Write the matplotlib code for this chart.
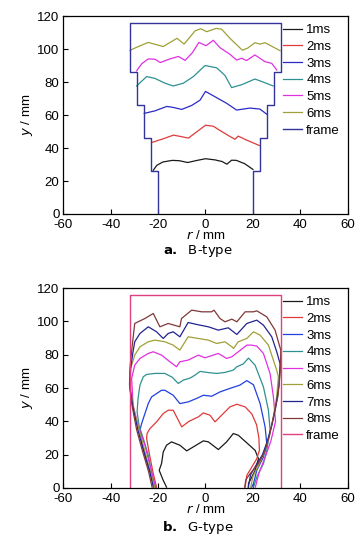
import matplotlib
matplotlib.use("Agg")
import matplotlib.pyplot as plt

plt.rcParams['font.family'] = ['Liberation Sans', 'DejaVu Sans']
plt.rcParams['axes.unicode_minus'] = False

# ---- panel a: B-type ----
a_labels = ['1ms', '2ms', '3ms', '4ms', '5ms', '6ms']
a_colors = ['#1a1a1a', '#e03a3a', '#2a2ac8', '#2f9090', '#e030e0', '#a0a038']

a_x = [
    [-22, -20.5, -18, -14, -11, -7.5, -3.5, 0, 4, 7, 9, 11, 13, 16.5, 20],
    [-22.7, -18, -13.5, -10.5, -7.2, -3.5, 0, 3.3, 6.8, 10.3, 12.4, 13.8, 17, 22.7],
    [-25.8, -21.3, -16.3, -13.6, -10, -5.8, -2.3, 0, 4.7, 8.9, 13.1, 18.7, 22.9, 25.8],
    [-29, -24.8, -21.3, -17.1, -13.6, -9.3, -5.1, -0.2, 4.7, 8.2, 11, 15.5, 20.8, 23.7, 28.5],
    [-29, -26.9, -24.1, -21.3, -19, -15, -11.4, -8.6, -5.5, -2.8, 0.2, 3.3, 6.1, 10.3,
     13.1, 15.2, 17.3, 20.8, 25.1, 27.9, 30],
    [-31.8, -28.3, -24.1, -17.8, -12, -9, -4.4, -2, 0.5, 4.5, 6.8, 10.3, 15.5, 17.7,
     20.8, 22.9, 25.1, 31.4],
]
a_y = [
    [26.5, 29.5, 31.5, 32.5, 32.3, 31.2, 32.5, 33.5, 32.8, 31.8, 30.2, 32.6, 32.5, 30.5, 27],
    [43.3, 45.5, 47.8, 47, 46, 50, 53.8, 53.2, 50, 47, 45.3, 47.2, 45, 41.5],
    [61, 62.5, 65.2, 64.6, 63.4, 65.8, 69, 74.3, 70.5, 67.1, 63, 64.2, 63.6, 60.5],
    [77.6, 83.3, 82.2, 79.3, 77.6, 79.3, 83.3, 90, 88.6, 84, 76.6, 78.5, 81.8, 80.3, 77.6],
    [86.8, 91, 94, 93.8, 91.8, 94, 95.5, 93.1, 97.8, 104, 102, 105.3, 100.8, 96.8,
     93.3, 94.4, 93, 96.4, 92.3, 91.3, 87.3],
    [99.2, 101.5, 104, 101.5, 106.5, 103, 111, 112.3, 110.5, 112.5, 112, 106.5, 99.3,
     100.5, 103.8, 103, 103.8, 99],
]
a_frame_x = [-20, -20, -23, -23, -26, -26, -29, -29, -32, -32, 32, 32, 29, 29, 26, 26, 23, 23, 20, 20]
a_frame_y = [0, 26, 26, 46, 46, 66, 66, 86, 86, 116, 116, 86, 86, 66, 66, 46, 46, 26, 26, 0]
a_frame_color = '#333399'

# ---- panel b: G-type ----
b_labels = ['1ms', '2ms', '3ms', '4ms', '5ms', '6ms', '7ms', '8ms']
b_colors = ['#1a1a1a', '#e03a3a', '#2040e0', '#2f9090', '#e030e0', '#a0a038', '#23238f', '#803838']

b_x = [
    [-16.4, -17.8, -19.5, -18.5, -17.8, -16.4, -14.3, -10.8, -7.9, -5.1, -0.9, 1.2, 5.4,
     8.9, 11.7, 13.8, 17.4, 20.9, 22.3, 20.9, 18.1, 18.1],
    [-20.6, -22, -23.4, -24.8, -24.6, -23.4, -20.6, -17.8, -15.7, -13.6, -10, -7, -3, -0.9,
     1.9, 4, 7.5, 10.3, 13.2, 16.7, 19.5, 21.5, 22.5, 22.7, 21.6, 19.5, 17.4, 16.7],
    [-21, -22.5, -24.5, -26.5, -27.6, -26.9, -24.1, -22.7, -18.5, -17.1, -13.6, -10.8,
     -7.3, -3.7, -0.9, 2.6, 6.1, 10.3, 14.5, 17.4, 20.2, 23, 25.1, 25.8, 24.4, 21.6, 20.2, 19.5],
    [-21.3, -22.7, -24.1, -26.2, -28, -28.8, -28.4, -27.6, -26.2, -24.8, -21.3, -17.1, -14,
     -11.5, -9.3, -6.5, -4.4, -2.3, 1.9, 4.7, 8.2, 11.7, 13.2, 15.9, 18.1, 20.9, 24.4,
     26.5, 27.2, 25.8, 24.4, 21.6, 20.2],
    [-21, -23.4, -25.5, -28.4, -30.5, -31.1, -29.8, -27.6, -24.1, -22, -18.5, -15, -12.2,
     -10.8, -7.3, -3, -0.2, 3.3, 5.4, 8.9, 11.1, 17.4, 19.5, 21.6, 24.4, 27.2, 28.6, 29.5,
     27.5, 25, 22.5, 21],
    [-21.5, -23.5, -25.5, -28, -30, -31.5, -31.9, -29.8, -27.6, -24.1, -21.3, -17.1, -13.6,
     -10.8, -7.3, -3, 1.2, 4.7, 8.2, 11.1, 11.8, 13.8, 17.4, 20.2, 23, 26.5, 30, 30.7, 30,
     28.5, 27, 25, 22.5, 20, 19],
    [-22, -23.5, -26, -28.5, -30.5, -31.8, -31.5, -30.5, -29.8, -27.6, -24.1, -20.6, -17.8,
     -15.7, -13.6, -10.8, -7.3, -3.7, 1.2, 5.4, 9.6, 13.2, 17.4, 21.6, 24.4, 27.9, 30,
     31.4, 31, 29.5, 28, 26, 24, 21, 19, 18],
    [-22.5, -24, -26.5, -29, -31, -32, -31.8, -31.2, -30.5, -29.8, -25.5, -22, -19.2,
     -15.7, -10.8, -10.1, -5.8, -1.6, 2.6, 3.6, 6.1, 8.2, 11.1, 13.2, 16.7, 20.2, 21.6,
     25.8, 29.3, 30.7, 31.7, 31.5, 30.5, 28.5, 27, 25, 22, 19, 17, 16.5],
]
b_y = [
    [0.5, 4.6, 10.6, 14.7, 21.6, 25.7, 27.7, 25.7, 22.3, 24.7, 28.3, 27.7, 23.1, 27.7,
     32.7, 31.7, 27.1, 22.6, 17.6, 10.6, 2.6, 0.5],
    [0.5, 8.7, 18.6, 29.7, 32.7, 35.7, 39.7, 44.7, 46.7, 46.7, 36.7, 40, 42.7, 45.1, 43.7,
     39.7, 44.7, 48.7, 50.3, 48.7, 44.5, 38, 30, 22.6, 17.6, 12.6, 7.6, 0.5],
    [0.5, 6, 15, 25, 34.7, 38.7, 50.7, 54.7, 58.7, 58.7, 55.7, 50.7, 51.7, 53.8, 55.7,
     55.1, 57.7, 59.8, 61.8, 64.5, 62, 50.7, 36.7, 26.7, 18.6, 10.6, 2.6, 0.5],
    [0.5, 9.6, 19.7, 29.7, 37.7, 45.7, 53.8, 61.8, 66.8, 68.2, 68.8, 68.8, 66.5, 62.8,
     64.8, 66, 67.8, 70, 69.2, 68.8, 69.4, 70.8, 72.8, 74.5, 78, 73.7, 60.7, 46.7, 34.7,
     22.6, 14.6, 6.6, 0.5],
    [0.5, 13.6, 25.7, 37.7, 49.7, 65.8, 73.8, 77.8, 80.8, 81.8, 79.8, 75.8, 72.8, 75.8,
     76.8, 79.8, 78.2, 79.8, 80.8, 77.8, 78.8, 85.8, 85.8, 85.2, 80.8, 68.7, 54.7, 40,
     28, 18, 9, 0.5],
    [0.5, 11, 22, 35, 46, 58, 70, 79.8, 84.8, 87.8, 88.8, 87.8, 85.8, 82.8, 90.8, 89.8,
     88.8, 86.8, 87.8, 84.8, 83.8, 87.8, 89.8, 93.8, 91.8, 85.8, 70.7, 66.7, 55, 42, 32,
     22, 14, 7, 0.5],
    [0.5, 10, 22, 35, 48, 60, 72, 82, 87.8, 92.8, 96.8, 93.8, 89.8, 92.8, 93.8, 90.8,
     99.4, 98.2, 96.8, 94.8, 96.2, 92.2, 98.8, 100.8, 97.8, 90.8, 81.8, 74.7, 62, 48,
     38, 28, 20, 13, 8, 0.5],
    [0.5, 10, 22, 35, 50, 62, 72, 81, 90, 98.8, 101.8, 104.8, 96.8, 98.8, 96.8, 101.8,
     106.8, 105.8, 105.8, 106.8, 101.8, 99.8, 101.4, 99.8, 105.8, 105.8, 106.4, 102.8,
     94.8, 87.8, 82.8, 70, 55, 42, 32, 22, 14, 9, 5, 0.5],
]
b_frame_x = [-32, -32, 32, 32]
b_frame_y = [0, 116, 116, 0]
b_frame_color = '#e0407f'

fig = plt.figure(figsize=(3.63, 5.43), dpi=100)
ax_a = fig.add_axes([0.1736, 0.6059, 0.785, 0.3646])
ax_b = fig.add_axes([0.1736, 0.1013, 0.785, 0.368])


def draw(ax, xs, ys, labels, colors, fx, fy, fcolor):
    for x, y, lab, c in zip(xs, ys, labels, colors):
        ax.plot(x, y, color=c, lw=0.9, label=lab)
    ax.plot(fx, fy, color=fcolor, lw=1.0, label='frame')
    ax.set_xlim(-60, 60)
    ax.set_ylim(0, 120)
    ax.set_xticks(range(-60, 61, 20))
    ax.set_yticks(range(0, 121, 20))
    ax.tick_params(direction='in', length=3.5, width=0.8, labelsize=9.5)
    ax.tick_params(axis='x', pad=3.5)
    ax.tick_params(axis='y', pad=2.5)
    for s in ax.spines.values():
        s.set_linewidth(0.9)
    ax.set_xlabel(r'$\it{r}$ / mm', fontsize=9.5, labelpad=-1)
    ax.set_ylabel(r'$\it{y}$ / mm', fontsize=9.5, labelpad=2)
    ax.legend(loc='upper right', bbox_to_anchor=(1.0, 1.0), frameon=False, fontsize=9.5,
              handlelength=1.5, handletextpad=0.3, labelspacing=0.34, borderaxespad=0.2)


draw(ax_a, a_x, a_y, a_labels, a_colors, a_frame_x, a_frame_y, a_frame_color)
draw(ax_b, b_x, b_y, b_labels, b_colors, b_frame_x, b_frame_y, b_frame_color)

fig.text(198 / 363, 1 - 251 / 543, r'$\mathbf{a.}$  B-type', ha='center', va='center',
         fontsize=9.5, family='DejaVu Sans')
fig.text(198 / 363, 1 - 527 / 543, r'$\mathbf{b.}$  G-type', ha='center', va='center',
         fontsize=9.5, family='DejaVu Sans')

fig.savefig('out.png', dpi=100)
